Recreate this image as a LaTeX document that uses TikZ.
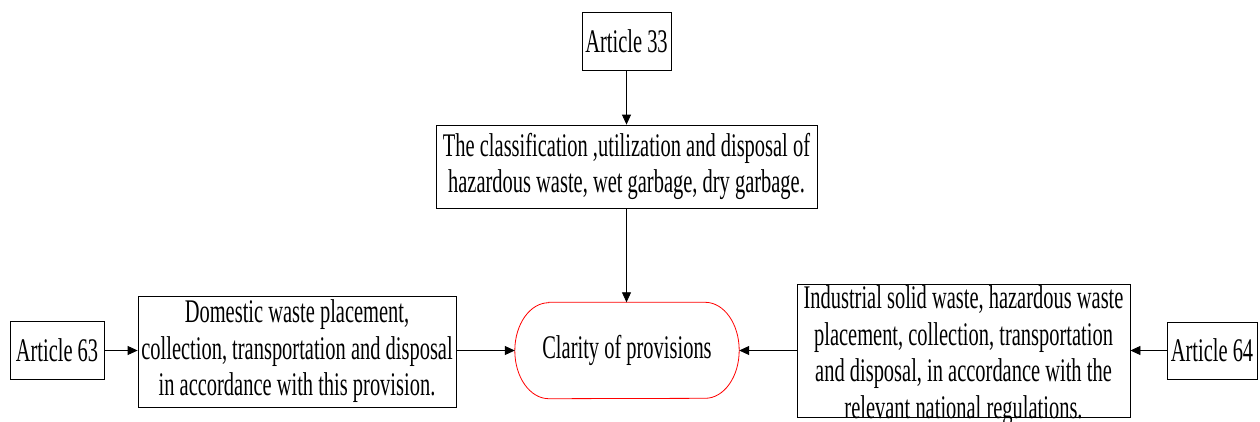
\documentclass[tikz,border=0pt]{standalone}
\usepackage{fontspec}
\setmainfont{Liberation Serif}[FakeStretch=0.62]
\usetikzlibrary{arrows.meta}
\begin{document}
\begin{tikzpicture}[x=1pt,y=-1pt,
  txt/.style={font=\fontsize{33}{36.5}\selectfont, align=center, inner sep=0pt},
  box/.style={draw=black, line width=0.8pt, rectangle, inner sep=0pt},
  arr/.style={draw=black, line width=0.8pt, -{Triangle[length=10pt,width=9pt]}}
]
\useasboundingbox (0,0) rectangle (1260,421);
\fill[white] (0,0) rectangle (1260,421);

% top article and its provision
\node[box, txt, minimum width=89pt, minimum height=58pt] (a33) at (626.5,41) {Article 33};
\node[box, txt, minimum width=381pt, minimum height=83pt] (cls) at (626.5,166.5)
  {The classification ,utilization and disposal of\\hazardous waste, wet garbage, dry garbage.};

% central outcome, drawn as a stadium with elliptical ends
\node[txt, minimum width=224pt, minimum height=96pt] (clr) at (627,350.5) {Clarity of provisions};
\draw[red, line width=0.8pt]
  ([xshift=34pt]clr.north west) -- ([xshift=-34pt]clr.north east)
  arc[start angle=90, end angle=-90, x radius=34pt, y radius=48pt]
  -- ([xshift=34pt]clr.south west)
  arc[start angle=270, end angle=90, x radius=34pt, y radius=48pt] -- cycle;

% left branch
\node[box, txt, minimum width=94pt, minimum height=58pt] (a63) at (57,350.5) {Article 63};
\node[box, txt, minimum width=318pt, minimum height=111pt] (dom) at (297,351.5)
  {Domestic waste placement,\\collection, transportation and disposal\\in accordance with this provision.};

% right branch (text runs past the frame)
\node[box, minimum width=333pt, minimum height=133pt] (ind) at (963.5,350.5) {};
\node[txt] (indtxt) at ([yshift=-5pt]ind.center)
  {Industrial solid waste, hazardous waste\\placement, collection, transportation\\and disposal, in accordance with the\\relevant national regulations.};
\node[box, txt, minimum width=90pt, minimum height=57pt] (a64) at (1212,350.5) {Article 64};

% connectors
\draw[arr] (a33.south) -- (cls.north);
\draw[arr] (cls.south) -- (cls.south |- clr.north);
\draw[arr] (a63.east) -- (a63.east -| dom.west);
\draw[arr] (dom.east |- clr.west) -- (clr.west);
\draw[arr] (a64.west) -- (ind.east);
\draw[arr] (ind.west) -- (clr.east);
\end{tikzpicture}
\end{document}
